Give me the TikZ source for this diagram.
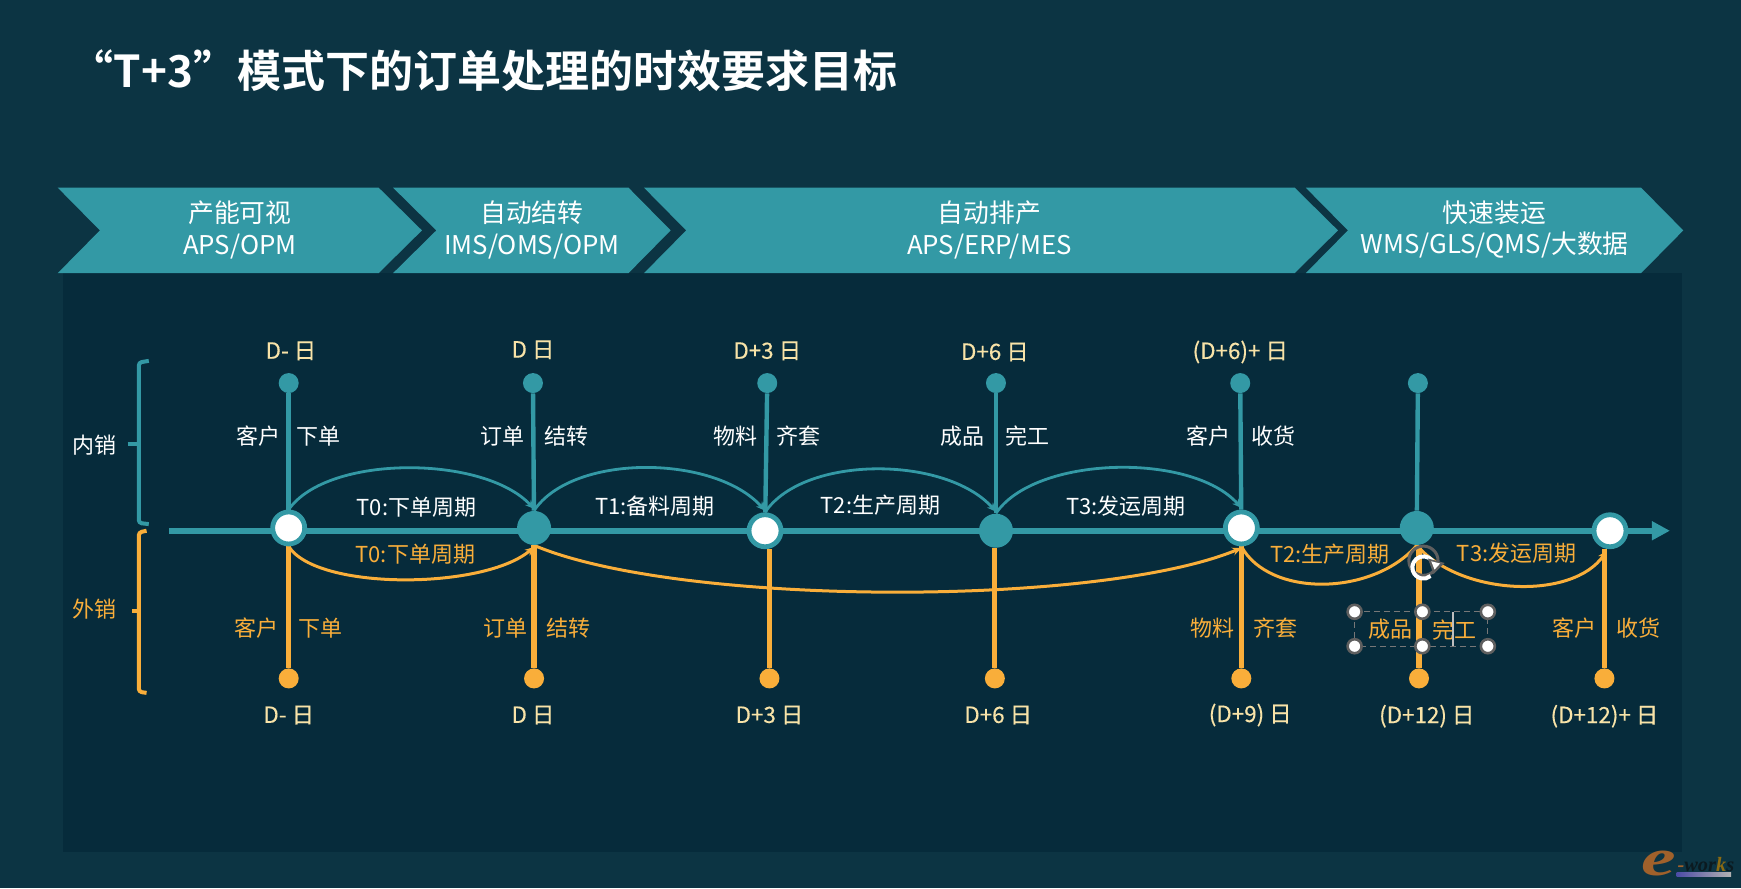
\documentclass[tikz,border=0pt]{standalone}
\usepackage{fontspec}
\setmainfont{Noto Sans CJK SC}[BoldFont={Noto Sans CJK SC Bold}]
\newfontfamily\dayfont{Noto Sans CJK SC}[FakeBold=0.35]
\newfontfamily\logofont{Liberation Serif}[Ligatures=TeX]
\usetikzlibrary{calc,arrows.meta}
\definecolor{bgc}{HTML}{0C3443}
\definecolor{panelc}{HTML}{062B3B}
\definecolor{tealc}{HTML}{3399A5}
\definecolor{orangec}{HTML}{F9AE3A}
\definecolor{creamc}{HTML}{F8E3A8}
\definecolor{handlec}{HTML}{5F5F5F}
\definecolor{logoe}{HTML}{A0612B}
\definecolor{logow}{HTML}{0B1A20}
\definecolor{logok}{HTML}{8B6A12}
\pgfdeclarelayer{back}\pgfdeclarelayer{conn}
\pgfsetlayers{back,conn,main}
\tikzset{
  x=0.55515pt,y=-0.55515pt,
  chev/.style={fill=tealc,draw=none},
  chevtext/.style={text=white,align=center,inner sep=0pt,font=\fontsize{12.9}{15.6}\selectfont},
  ring/.style={circle,draw=tealc,line width=2.4pt,fill=white,minimum size=16pt,inner sep=0pt},
  solid hub/.style={circle,fill=tealc,minimum size=17pt,inner sep=0pt},
  tdot/.style={circle,fill=tealc,minimum size=10pt,inner sep=0pt},
  odot/.style={circle,fill=orangec,minimum size=10pt,inner sep=0pt},
  tstem/.style={draw=tealc,line width=2.2pt},
  ostem/.style={draw=orangec,line width=2.6pt},
  tarc/.style={draw=tealc,line width=1.4pt,-{Stealth[length=4.5pt,width=4pt]}},
  oarc/.style={draw=orangec,line width=1.5pt,-{Stealth[length=4.5pt,width=4pt]}},
  wlab/.style={text=white,inner sep=0pt,font=\fontsize{11}{12}\selectfont},
  olab/.style={text=orangec,inner sep=0pt,font=\fontsize{11}{12}\selectfont},
  daylab/.style={text=creamc,inner sep=0pt,font=\dayfont\fontsize{11.2}{12}\selectfont},
  grip/.style={circle,draw=handlec,line width=1.3pt,fill=white,minimum size=7pt,inner sep=0pt},
}
\begin{document}
\begin{tikzpicture}
\useasboundingbox (0,0) rectangle (1568,799.8);
\begin{pgfonlayer}{back}
  \fill[bgc] (0,0) rectangle (1568,799.8);
  \fill[panelc] (57,246) rectangle (1515,767);
\end{pgfonlayer}

% title
\node[anchor=west,inner sep=0pt,text=white,font=\bfseries\fontsize{22}{26}\selectfont] (title) at (62.5,64) {“T+3”模式下的订单处理的时效要求目标};

% chevrons
\fill[chev] (52,169)--(341,169)--(380,207.5)--(341,246)--(52,246)--(90,207.5)--cycle;
\fill[chev] (354,169)--(566,169)--(604,207.5)--(566,246)--(354,246)--(393,207.5)--cycle;
\fill[chev] (580,169)--(1166,169)--(1205,207.5)--(1166,246)--(580,246)--(618,207.5)--cycle;
\fill[chev] (1176,169)--(1478,169)--(1516,207.5)--(1478,246)--(1176,246)--(1214,207.5)--cycle;
\node[chevtext] (c1) at (216,207) {产能可视\\APS/OPM};
\node[chevtext] (c2) at (479,207) {自动结转\\IMS/OMS/OPM};
\node[chevtext] (c3) at (891,207) {自动排产\\APS/ERP/MES};
\node[chevtext] (c4) at (1346,207) {快速装运\\WMS/GLS/QMS/大数据};

% axis hubs
\node[ring] (h1) at (260,475.5) {};
\node[solid hub] (h2) at (481,475.5) {};
\node[ring] (h3) at (689,478) {};
\node[solid hub] (h4) at (897,478) {};
\node[ring] (h5) at (1118,475.5) {};
\node[solid hub] (h6) at (1276,475.5) {};
\node[ring] (h7) at (1450,478) {};
\coordinate (axs) at (152,478);
\coordinate (axe) at (1504,478);

% top dots
\node[tdot] (t1) at (260,345) {};
\node[tdot] (t2) at (480,345) {};
\node[tdot] (t3) at (691,345) {};
\node[tdot] (t4) at (897,345) {};
\node[tdot] (t5) at (1117,345) {};
\node[tdot] (t6) at (1277,345) {};
% bottom dots
\node[odot] (b1) at (260,611) {};
\node[odot] (b2) at (481,611) {};
\node[odot] (b3) at (693,611) {};
\node[odot] (b4) at (896,611) {};
\node[odot] (b5) at (1118,611) {};
\node[odot] (b6) at (1278,611) {};
\node[odot] (b7) at (1445,611) {};

\begin{pgfonlayer}{conn}
  \draw[draw=tealc,line width=3pt,-{Triangle[length=9pt,width=9pt]}] (axs) -- (axe);
  \draw[tstem] (t1) -- (h1);
  \draw[tstem] (t2) -- (h2);
  \draw[tstem] (t3) -- (h3);
  \draw[tstem] (t4) -- (h4);
  \draw[tstem] (t5) -- (h5);
  \draw[tstem] (t6) -- (h6);
  \draw[ostem] (b1) -- (h1.south);
  \draw[ostem] (b2) -- (h2.south);
  \draw[ostem] (b3) -- (b3 |- h3.south);
  \draw[ostem] (b4) -- (b4 |- h4.south);
  \draw[ostem] (b5) -- (h5.south);
  \draw[ostem] (b6) -- (b6 |- h6.south);
  \draw[ostem] (b7) -- (b7 |- h7.south);
  % teal arcs, tips just clear of the hubs
  \draw[tarc] (h1.north) .. controls ($(h1.north)+(35,-50)$) and ($(h2.north)+(-45,-50)$) .. ($(h2.north)+(0,-1.5)$);
  \draw[tarc] (h2.north) .. controls ($(h2.north)+(35,-52)$) and ($(h3.north)+(-45,-52)$) .. ($(h3.north)+(0,-1.5)$);
  \draw[tarc] (h3.north) .. controls ($(h3.north)+(35,-52)$) and ($(h4.north)+(-45,-52)$) .. ($(h4.north)+(0,-1.5)$);
  \draw[tarc] (h4.north) .. controls ($(h4.north)+(35,-52)$) and ($(h5.north)+(-45,-52)$) .. ($(h5.north)+(0,-1.5)$);
  % orange arcs
  \draw[oarc] (h1.south) .. controls ($(h1.south)+(25,40)$) and ($(h2.south)+(-45,40)$) .. ($(h2.south)+(0,1.5)$);
  \draw[oarc] (h2.south) .. controls ($(h2.south)+(130,55)$) and ($(h5.south)+(-130,55)$) .. ($(h5.south)+(0,1.5)$);
  \draw[draw=orangec,line width=1.5pt] (h5.south) .. controls ($(h5.south)+(25,46)$) and ($(h6.south)+(-40,46)$) .. (h6.south);
  \draw[oarc] (h6.south) .. controls ($(h6.south)+(40,46)$) and ($(h7.south)+(-33,46)$) .. ($(h7.south)+(-3,1.5)$);
\end{pgfonlayer}

% brackets
\coordinate (bta) at (134,325); \coordinate (btb) at (134,472);
\coordinate (boa) at (132,478); \coordinate (bob) at (132,624);
\draw[draw=tealc,line width=2pt,rounded corners=1.5pt] (bta) -- (125,326.5) -- (125,471) -- (btb);
\draw[draw=tealc,line width=2pt] (115,400) -- (125,400);
\draw[draw=orangec,line width=2pt,rounded corners=1.5pt] (boa) -- (125,479.5) -- (125,623) -- (bob);
\draw[draw=orangec,line width=2pt] (119,550) -- (125,550);
\node[wlab] (nx) at (85,401) {内销};
\node[olab] (wx) at (85,549) {外销};

% day labels
\node[daylab] (d1) at (262,316) {D- 日};
\node[daylab] (d2) at (480,315) {D 日};
\node[daylab] (d3) at (691,316) {D+3 日};
\node[daylab] (d4) at (896,317) {D+6 日};
\node[daylab] (d5) at (1117,317) {(D+6)+ 日};
\node[daylab] (e1) at (260,644) {D- 日};
\node[daylab] (e2) at (480,644) {D 日};
\node[daylab] (e3) at (693,644) {D+3 日};
\node[daylab] (e4) at (899,644) {D+6 日};
\node[daylab] (e5) at (1126,644) {(D+9) 日};
\node[daylab] (e6) at (1285,645) {(D+12) 日};
\node[daylab] (e7) at (1445,645) {(D+12)+ 日};

% upper pairs
\node[wlab] (u1a) at (233,393) {客户}; \node[wlab] (u1b) at (287,393) {下单};
\node[wlab] (u2a) at (453,393) {订单}; \node[wlab] (u2b) at (510,393) {结转};
\node[wlab] (u3a) at (662,393) {物料}; \node[wlab] (u3b) at (719,393) {齐套};
\node[wlab] (u4a) at (867,393) {成品}; \node[wlab] (u4b) at (925,393) {完工};
\node[wlab] (u5a) at (1088,393) {客户}; \node[wlab] (u5b) at (1147,393) {收货};
% lower pairs
\node[olab] (l1a) at (231,566) {客户}; \node[olab] (l1b) at (289,566) {下单};
\node[olab] (l2a) at (455,566) {订单}; \node[olab] (l2b) at (512,566) {结转};
\node[olab] (l5a) at (1092,566) {物料}; \node[olab] (l5b) at (1149,566) {齐套};
\node[olab] (l6a) at (1252,567) {成品}; \node[olab] (l6b) at (1310,567) {完工};
\node[olab] (l7a) at (1418,566) {客户}; \node[olab] (l7b) at (1476,566) {收货};

% period labels
\node[wlab] (p1) at (375,457) {T0:下单周期};
\node[wlab] (p2) at (590,456) {T1:备料周期};
\node[wlab] (p3) at (793,455) {T2:生产周期};
\node[wlab] (p4) at (1014,456) {T3:发运周期};
\node[olab] (q1) at (374,499) {T0:下单周期};
\node[olab] (q2) at (1198,499) {T2:生产周期};
\node[olab] (q3) at (1366,498) {T3:发运周期};

% text-box selection
\draw[draw=handlec!85!white,line width=0.5pt,densely dashed] (1220,551) rectangle (1340,582);
\draw[draw=white!75!black,line width=1pt] (1309,551) -- (1309,582);
\foreach \n/\p in {g1/{1220,551},g2/{1281,551},g3/{1340,551},g4/{1220,582},g5/{1281,582},g6/{1340,582}}
  \node[grip] (\n) at (\p) {};
% rotate handle
\node[circle,draw=handlec,line width=1.5pt,minimum size=14.6pt,inner sep=0pt] (rot) at (1282,505) {};
\draw[draw=white,line width=2pt] ($(rot)+(9.5,3)$) arc[start angle=-18,end angle=-310,radius=10];
\fill[handlec] (1286,503)--(1301,507)--(1291,517)--cycle;
\fill[white] (1289,505.5)--(1297,507.5)--(1292,513)--cycle;

% logo
\node[inner sep=0pt,text=logoe,xscale=1.5,font=\logofont\bfseries\itshape\fontsize{26}{26}\selectfont] (lge) at (1494,778) {e};
\node[anchor=west,inner sep=0pt,text=logow,font=\logofont\bfseries\itshape\fontsize{10.2}{10}\selectfont] (lgw) at (1510.5,779) {\textcolor{logoe}{-}wor\textcolor{logok}{k}s};
\shade[left color=blue!50!black!70!white,right color=white!70!black] (1510,785.5) rectangle (1559,789);
\end{tikzpicture}
\end{document}
